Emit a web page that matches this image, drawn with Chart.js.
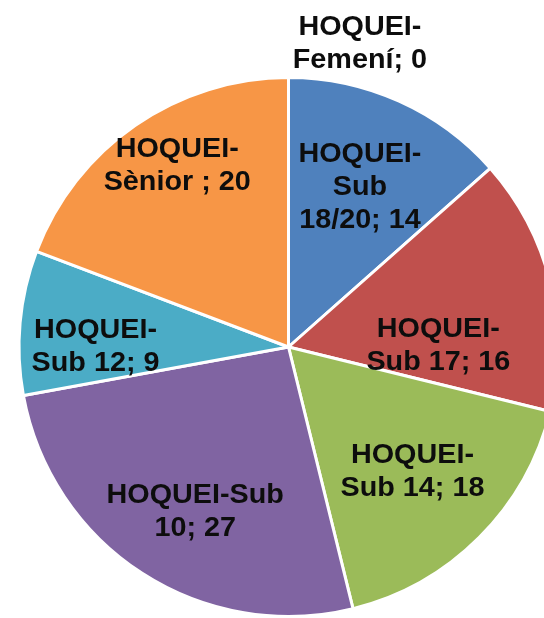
<!DOCTYPE html>
<html>
<head>
<meta charset="utf-8">
<script src="https://cdn.jsdelivr.net/npm/chart.js@4/dist/chart.umd.min.js"></script>
<style>
  html, body { margin: 0; padding: 0; background: #fff; overflow: hidden; width: 544px; height: 618px; }
  #wrap { position: absolute; left: 0; top: 0; width: 560px; height: 618px; }
</style>
</head>
<body>
<div id="wrap"><canvas id="c" width="560" height="618"></canvas></div>
<script>
// Data
const categories = ["HOQUEI-Sub 18/20", "HOQUEI-Sub 17", "HOQUEI-Sub 14", "HOQUEI-Sub 10", "HOQUEI-Sub 12", "HOQUEI-Sènior ", "HOQUEI-Femení"];
const values = [14, 16, 18, 27, 9, 20, 0];
const colors = ["#4F81BD", "#C0504D", "#9BBB59", "#8064A2", "#4BACC6", "#F79646", "#4F81BD"];

// Label line breaks (text only) and placement (layout)
const labelLines = [
  ["HOQUEI-", "Sub", "18/20; 14"],
  ["HOQUEI-", "Sub 17; 16"],
  ["HOQUEI-", "Sub 14; 18"],
  ["HOQUEI-Sub", "10; 27"],
  ["HOQUEI-", "Sub 12; 9"],
  ["HOQUEI-", "Sènior ; 20"],
  ["HOQUEI-", "Femení; 0"]
];
// label block centre offsets from pie centre, in units of radius
const labelOffsets = [
  [0.265, -0.600],
  [0.556, -0.011],
  [0.460, 0.456],
  [-0.346, 0.603],
  [-0.716, -0.007],
  [-0.413, -0.678],
  [0.265, -1.133]
];

const labelPlugin = {
  id: 'pieLabels',
  afterDatasetsDraw(chart) {
    const meta = chart.getDatasetMeta(0);
    const ctx = chart.ctx;
    const size = 27, lh = 33, sx = 1.065;
    ctx.save();
    ctx.font = "bold " + size + "px 'Liberation Sans', Arial, sans-serif";
    ctx.fillStyle = "#0d0d0d";
    ctx.textAlign = "center";
    ctx.textBaseline = "alphabetic";
    meta.data.forEach((arc, i) => {
      const r = arc.outerRadius;
      const cx = arc.x + labelOffsets[i][0] * r;
      const cy = arc.y + labelOffsets[i][1] * r;
      const lines = labelLines[i];
      const n = lines.length;
      const b1 = cy - ((n - 1) * lh - 0.716 * size) / 2;
      lines.forEach((t, k) => {
        ctx.save();
        ctx.translate(cx, b1 + k * lh);
        ctx.scale(sx, 1);
        ctx.fillText(t, 0, 0);
        ctx.restore();
      });
    });
    ctx.restore();
  }
};

new Chart(document.getElementById('c'), {
  type: 'pie',
  data: {
    labels: categories,
    datasets: [{
      data: values,
      backgroundColor: colors,
      borderColor: "#ffffff",
      borderWidth: 3,
      hoverOffset: 0
    }]
  },
  options: {
    responsive: false,
    devicePixelRatio: 1,
    animation: false,
    layout: { padding: { top: 76, left: 17, right: 0, bottom: 0 } },
    plugins: {
      legend: { display: false },
      tooltip: { enabled: false }
    }
  },
  plugins: [labelPlugin]
});
</script>
</body>
</html>
